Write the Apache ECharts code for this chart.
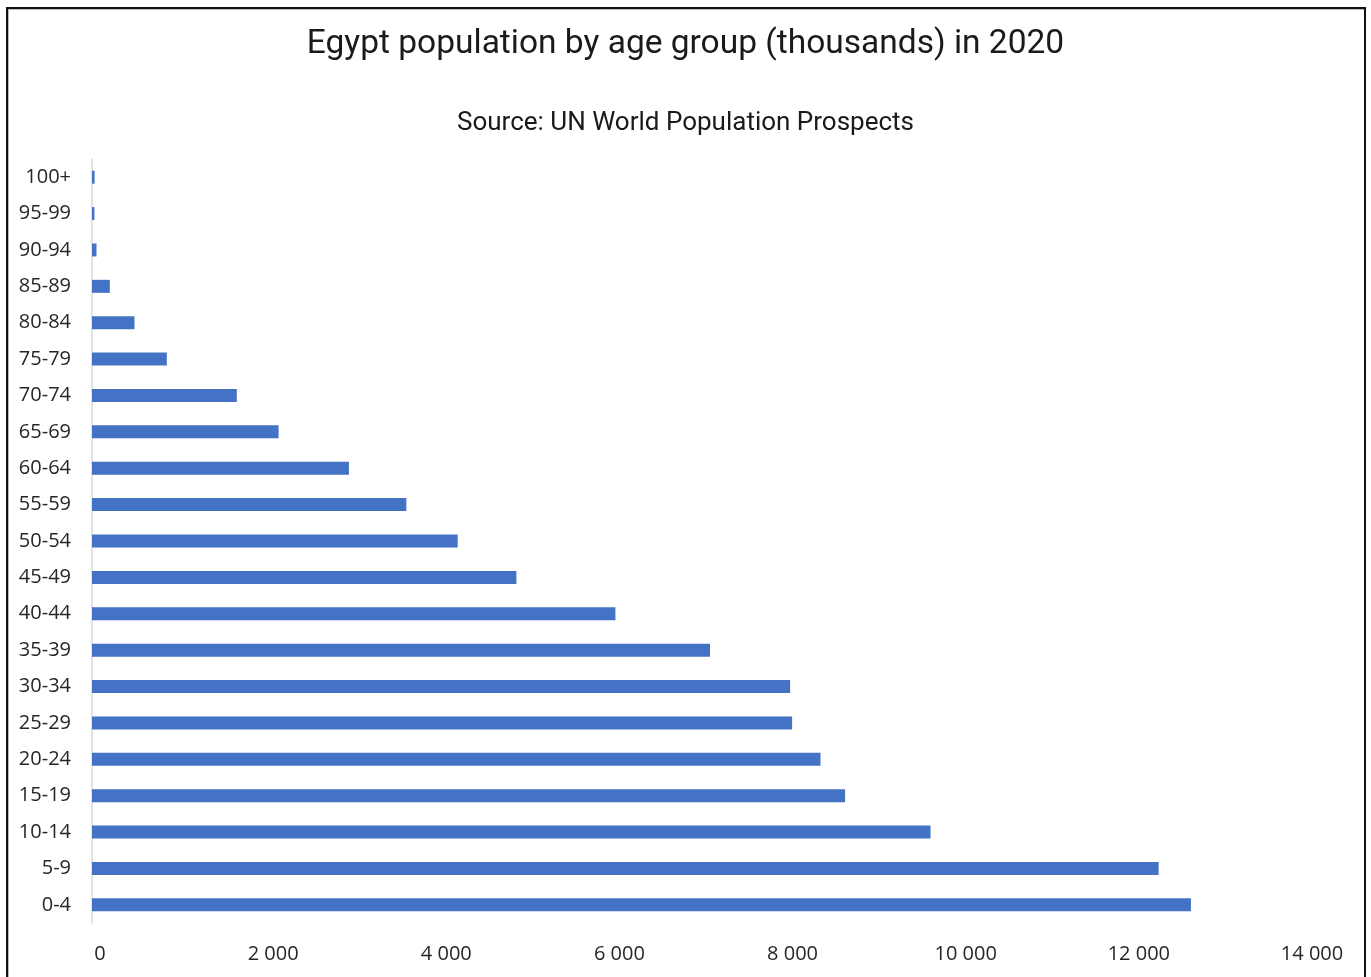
<!DOCTYPE html>
<html>
<head>
<meta charset="utf-8">
<title>Egypt population by age group</title>
<script src="https://cdn.jsdelivr.net/npm/echarts@6/dist/echarts.min.js"></script>
<style>
  html, body { margin: 0; padding: 0; background: #fff; }
  #chart { width: 1371px; height: 977px; }
  /* frame around the chart */
  .frame {
    position: absolute; left: 6px; top: 7px; width: 1356px; height: 1000px;
    border: 2px solid #111; border-bottom: none; pointer-events: none;
    box-shadow: inset 1px 1px 0 #bbb;
  }
</style>
</head>
<body>
<div id="chart"></div>
<div class="frame"></div>
<script>
  // age groups, youngest first (drawn bottom-up)
  const ageGroups = ['0-4', '5-9', '10-14', '15-19', '20-24', '25-29', '30-34', '35-39',
    '40-44', '45-49', '50-54', '55-59', '60-64', '65-69', '70-74', '75-79',
    '80-84', '85-89', '90-94', '95-99', '100+']
  // population in thousands
  const population = [12694, 12321, 9686, 8699, 8415, 8087, 8064, 7139,
    6046, 4902, 4224, 3631, 2968, 2155, 1673, 864,
    491, 206, 52, 28, 30]

  const titleText = 'Egypt population by age group (thousands) in 2020'
  const subText = 'Source: UN World Population Prospects'

  // 12000 -> "12 000"
  function spaced(v) {
    return String(v).replace(/\B(?=(\d{3})+(?!\d))/g, ' ')
  }

  const chart = echarts.init(document.getElementById('chart'))
  chart.setOption({
    animation: false,
    title: [
      {
        text: titleText,
        left: 'center',
        top: 23,
        textStyle: { fontFamily: 'Roboto', fontSize: 33.5, fontWeight: 'normal', color: '#1a1a1a' }
      },
      {
        text: subText,
        left: 'center',
        top: 105,
        textStyle: { fontFamily: 'Roboto', fontSize: 26, fontWeight: 'normal', color: '#1a1a1a' }
      }
    ],
    grid: {
      left: 92,
      right: 67,
      top: 159,
      bottom: 54,
      containLabel: false
    },
    xAxis: {
      type: 'value',
      min: 0,
      max: 14000,
      interval: 2000,
      axisLine: { show: false },
      axisTick: { show: false },
      splitLine: { show: false },
      axisLabel: {
        margin: 21,
        fontFamily: 'Open Sans',
        fontSize: 20,
        color: '#262626',
        padding: [0, 0, 0, 16],
        formatter: spaced
      }
    },
    yAxis: {
      type: 'category',
      data: ageGroups,
      axisLine: { show: true, lineStyle: { color: '#d9d9d9', width: 1.5 } },
      axisTick: { show: false },
      axisLabel: {
        margin: 21,
        fontFamily: 'Open Sans',
        fontSize: 20,
        color: '#262626'
      }
    },
    series: [
      {
        type: 'bar',
        data: population,
        barWidth: 13,
        itemStyle: { color: '#4472C4' }
      }
    ]
  })
</script>
</body>
</html>
